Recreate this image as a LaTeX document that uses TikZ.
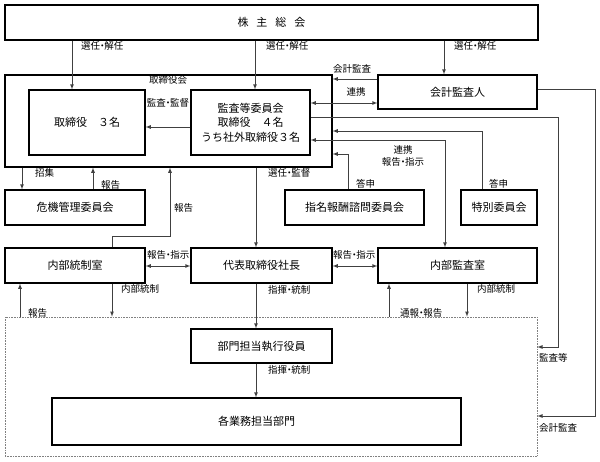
\documentclass[tikz,border=0pt]{standalone}
\usepackage{fontspec}
\setmainfont{Noto Sans CJK JP}
\usetikzlibrary{arrows}

\newcommand{\ndot}{\hbox to 0.45em{\hss ・\hss}}

\tikzset{
    box/.style={draw, line width=1.1pt, inner sep=0pt, align=center, font=\fontsize{11}{14.5}\selectfont},
    link/.style={draw=black!75, line width=0.8pt, -latex},
    lbl/.style={inner sep=0pt, anchor=west, font=\fontsize{9.5}{12}\selectfont},
}

\begin{document}
\begin{tikzpicture}[x=1pt, y=-1pt]
    \useasboundingbox (0,0) rectangle (600,461);

    \node[box, minimum width=533pt, minimum height=35pt] (soukai) at (271.5,22.5) {株\hspace{8pt}主\hspace{8pt}総\hspace{8pt}会};
    \node[box, minimum width=327pt, minimum height=92pt] (torikai) at (168.5,121) {};
    \node[box, minimum width=116pt, minimum height=65pt] (torishimari) at (87,122.5) {取締役　３名};
    \node[box, minimum width=119pt, minimum height=65pt] (kansa) at (250.5,122.5) {監査等委員会\\取締役　４名\\うち社外取締役３名};
    \node[box, minimum width=159pt, minimum height=34pt] (kaikei) at (457.5,92) {会計監査人};
    \node[box, minimum width=140pt, minimum height=35pt] (kiki) at (75,207.5) {危機管理委員会};
    \node[box, minimum width=139pt, minimum height=35pt] (shimei) at (354.5,207.5) {指名報酬諮問委員会};
    \node[box, minimum width=76pt, minimum height=35pt] (tokubetsu) at (499,207.5) {特別委員会};
    \node[box, minimum width=140pt, minimum height=35pt] (naibutousei) at (75,265.5) {内部統制室};
    \node[box, minimum width=141pt, minimum height=35pt] (shachou) at (261.5,265.5) {代表取締役社長};
    \node[box, minimum width=159pt, minimum height=35pt] (naibukansa) at (457.5,265.5) {内部監査室};
    \node[draw=black!50, densely dotted, line width=0.6pt, minimum width=532pt, minimum height=139pt] (genba) at (271,386.5) {};
    \node[box, minimum width=141pt, minimum height=34pt] (bumonyakuin) at (261.5,346) {部門担当執行役員};
    \node[box, minimum width=409pt, minimum height=47pt] (gyoumu) at (256.5,421.5) {各業務担当部門};

    \coordinate (xa) at (72,0);
    \coordinate (xb) at (255,0);
    \coordinate (xc) at (444,0);
    \coordinate (xd) at (22,0);
    \coordinate (xe) at (93,0);
    \coordinate (xf) at (112,0);
    \coordinate (xg) at (170,0);
    \coordinate (xh) at (256,0);
    \coordinate (xi) at (348,0);
    \coordinate (xj) at (445,0);
    \coordinate (xk) at (482,0);
    \coordinate (xl) at (558,0);
    \coordinate (xm) at (595,0);
    \coordinate (xn) at (20,0);
    \coordinate (xo) at (389,0);
    \coordinate (xp) at (467,0);
    \coordinate (ya) at (0,79);
    \coordinate (yb) at (0,89);
    \coordinate (yc) at (0,103);
    \coordinate (yd) at (0,117);
    \coordinate (ye) at (0,127);
    \coordinate (yf) at (0,131);
    \coordinate (yg) at (0,140);
    \coordinate (yh) at (0,154);
    \coordinate (yi) at (0,236);
    \coordinate (yj) at (0,266);
    \coordinate (yk) at (0,347);
    \coordinate (yl) at (0,416);

    \draw[link] (soukai.south -| xa) -- (torishimari.north -| xa);
    \draw[link] (soukai.south -| xb) -- (kansa.north -| xb);
    \draw[link] (soukai.south -| xc) -- (kaikei.north -| xc);
    \draw[link] (kansa.west |- ye) -- (torishimari.east |- ye);
    \draw[link] (kaikei.west |- ya) -- (torikai.east |- ya);
    \draw[link, latex-latex] (kansa.east |- yc) -- (kaikei.west |- yc);
    \draw[link] (kansa.east |- yd) -| (xl |- yk) -- (genba.east |- yk);
    \draw[link] (kaikei.east |- yb) -| (xm |- yl) -- (genba.east |- yl);
    \draw[link] (tokubetsu.north -| xk) |- (torikai.east |- yf);
    \draw[link, latex-latex] (kansa.east |- yg) -| (naibukansa.north -| xj);
    \draw[link] (shimei.north -| xi) |- (torikai.east |- yh);
    \draw[link] (torikai.south -| xd) -- (kiki.north -| xd);
    \draw[link] (kiki.north -| xe) -- (torikai.south -| xe);
    \draw[link] (naibutousei.north -| xf) |- (xg |- yi) -- (torikai.south -| xg);
    \draw[link] (torikai.south -| xh) -- (shachou.north -| xh);
    \draw[link, latex-latex] (naibutousei.east |- yj) -- (shachou.west |- yj);
    \draw[link, latex-latex] (shachou.east |- yj) -- (naibukansa.west |- yj);
    \draw[link] (genba.north -| xn) -- (naibutousei.south -| xn);
    \draw[link] (naibutousei.south -| xf) -- (genba.north -| xf);
    \draw[link] (shachou.south -| xh) -- (bumonyakuin.north -| xh);
    \draw[link] (genba.north -| xo) -- (naibukansa.south -| xo);
    \draw[link] (naibukansa.south -| xp) -- (genba.north -| xp);
    \draw[link] (bumonyakuin.south -| xh) -- (gyoumu.north -| xh);

    \node[lbl, anchor=center] (torikailbl) at (168,80) {取締役会};
    \node[lbl] (sennin1) at (81,46) {選任\ndot 解任};
    \node[lbl] (sennin2) at (266,46) {選任\ndot 解任};
    \node[lbl] (sennin3) at (454,46) {選任\ndot 解任};
    \node[lbl, anchor=center] (kantoku) at (168,103) {監査\ndot 監督};
    \node[lbl] (kaikeikansa1) at (333,69) {会計監査};
    \node[lbl, anchor=center] (renkei) at (356,92) {連携};
    \node[lbl, anchor=center, align=center] (renkeihoukoku) at (403,156) {連携\\報告\ndot 指示};
    \node[lbl] (toushin1) at (356,184) {答申};
    \node[lbl] (toushin2) at (489,184) {答申};
    \node[lbl] (shoushu) at (35,173) {招集};
    \node[lbl] (houkoku1) at (101,185) {報告};
    \node[lbl] (houkoku2) at (174,208) {報告};
    \node[lbl] (senninkantoku) at (268,173) {選任\ndot 監督};
    \node[lbl] (houkokushiji1) at (147,255) {報告\ndot 指示};
    \node[lbl] (houkokushiji2) at (333,255) {報告\ndot 指示};
    \node[lbl] (naibutousei1) at (121,289) {内部統制};
    \node[lbl] (shiki1) at (268,290) {指揮\ndot 統制};
    \node[lbl] (naibutousei2) at (477,289) {内部統制};
    \node[lbl] (houkoku3) at (28,313) {報告};
    \node[lbl] (tsuuhou) at (400,313) {通報\ndot 報告};
    \node[lbl] (shiki2) at (268,370) {指揮\ndot 統制};
    \node[lbl] (kansatou) at (539,358) {監査等};
    \node[lbl] (kaikeikansa2) at (539,428) {会計監査};
\end{tikzpicture}
\end{document}
